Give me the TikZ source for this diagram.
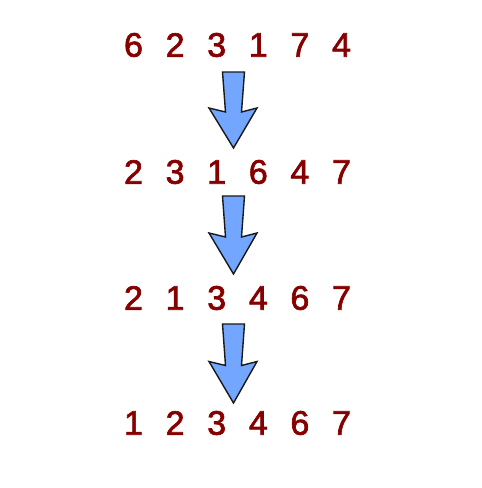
\documentclass[tikz,border=0pt]{standalone}
\usepackage{fontspec}
\setmainfont{Liberation Sans}
\newfontfamily\numfam[FakeBold=2]{Liberation Sans}
\usepackage{xcolor}
\usetikzlibrary{positioning}
\definecolor{numred}{RGB}{134,0,0}
\definecolor{arrowblue}{RGB}{114,166,255}
\newcommand{\numfont}{\numfam\fontsize{34}{40}\selectfont}
\begin{document}
\begin{tikzpicture}[x=1pt,y=-1pt,
	num/.style={text=numred,font=\numfont,inner sep=0pt},
	blockarrow/.style={draw=black!90,fill=arrowblue,line width=1.4pt,line join=miter}]
	\useasboundingbox (0,0) rectangle (482,488);
	% rows of numbers
	\foreach \row/\y/\list in {1/45/{6,2,3,1,7,4},2/172/{2,3,1,6,4,7},3/298/{2,1,3,4,6,7},4/423/{1,2,3,4,6,7}}
		\foreach \n [count=\c] in \list
			\node[num] (r\row-\c) at ({133.5+41.6*(\c-1)},\y) {\n};

	% block arrows between the rows
	\foreach \t/\b in {72/148,196/274,324/403} {
		\pgfmathsetmacro{\m}{(\t+\b)/2}
		\draw[blockarrow] (222.5,\t) -- (244.5,\t) -- (241.5,\m+2) -- (257,\m-2) -- (233.5,\b)
			-- (209,\m-2) -- (225.5,\m+2) -- cycle;
	}
\end{tikzpicture}
\end{document}
